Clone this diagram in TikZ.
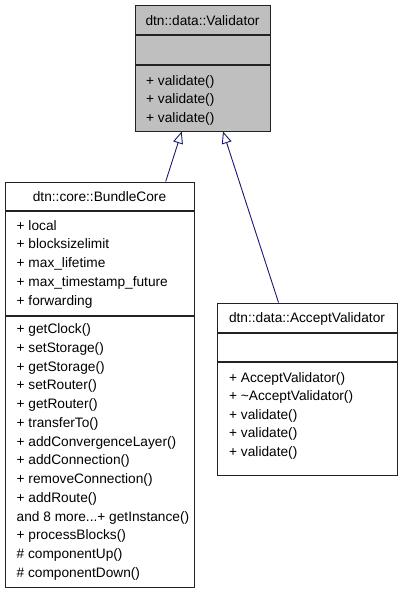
\documentclass[tikz,border=0pt]{standalone}
\usepackage{fontspec}
\setmainfont{Liberation Sans}
\usetikzlibrary{arrows.meta}
\definecolor{midnight}{HTML}{191970}
\definecolor{boxgray}{HTML}{BFBFBF}
\definecolor{edge}{HTML}{222222}
\newcommand\mymoredots{...}
\begin{document}
\begin{tikzpicture}[x=1pt,y=-1pt,
  box/.style={draw=edge, line width=1.3pt, inner sep=0pt, anchor=north west},
  txt/.style={inner sep=0pt, anchor=base west, font=\fontsize{13.7}{16}\selectfont},
  ttl/.style={inner sep=0pt, anchor=base, font=\fontsize{13.7}{16}\selectfont},
  sepline/.style={draw=edge, line width=1.3pt},
  inh/.style={draw=midnight, line width=0.9pt, -{Triangle[open,length=12pt,width=10pt,fill=white]}}]
\useasboundingbox (0,0) rectangle (400,595);
% Validator
\node[box, fill=boxgray, minimum width=135pt, minimum height=126pt] (val) at (135,5) {};
\draw[sepline] (135,35) -- (270,35);
\draw[sepline] (135,65) -- (270,65);
\node[ttl] (valt) at (202.5,25) {dtn::data::Validator};
\node[txt] (v1) at (146,85) {+ validate()};
\node[txt] (v2) at (146,103.5) {+ validate()};
\node[txt] (v3) at (146,122) {+ validate()};
% BundleCore
\node[box, fill=white, minimum width=189pt, minimum height=405pt] (core) at (5,182) {};
\draw[sepline] (5,211) -- (194,211);
\draw[sepline] (5,316) -- (194,316);
\node[ttl] (coret) at (99.5,201) {dtn::core::BundleCore};
\foreach \t [count=\i from 0] in {+ local,+ blocksizelimit,+ max\_lifetime,+ max\_timestamp\_future,+ forwarding}
  \node[txt] (ca\i) at (16.5,230+18.75*\i) {\t};
\foreach \t [count=\i from 0] in {+ getClock(),+ setStorage(),+ getStorage(),+ setRouter(),+ getRouter(),+ transferTo(),+ addConvergenceLayer(),+ addConnection(),+ removeConnection(),+ addRoute(),and 8 more\mymoredots+ getInstance(),+ processBlocks(),\# componentUp(),\# componentDown()}
  \node[txt] (cm\i) at (16.5,333.5+18.77*\i) {\t};
% AcceptValidator
\node[box, fill=white, minimum width=180pt, minimum height=172pt] (acc) at (217,303) {};
\draw[sepline] (217,333) -- (397,333);
\draw[sepline] (217,362) -- (397,362);
\node[ttl] (acct) at (307,322) {dtn::data::AcceptValidator};
\foreach \t [count=\i from 0] in {+ AcceptValidator(),+ \textasciitilde AcceptValidator(),+ validate(),+ validate(),+ validate()}
  \node[txt] (am\i) at (229,382+18.6*\i) {\t};
% inheritance
\coordinate (tipL) at (181.7,131.5);
\coordinate (tipR) at (223,131.5);
\coordinate (coreTop) at (165.7,181.5);
\coordinate (accTop) at (278.5,302.5);
\draw[inh] (coreTop) -- (tipL);
\draw[inh] (accTop) -- (tipR);
\end{tikzpicture}
\end{document}
